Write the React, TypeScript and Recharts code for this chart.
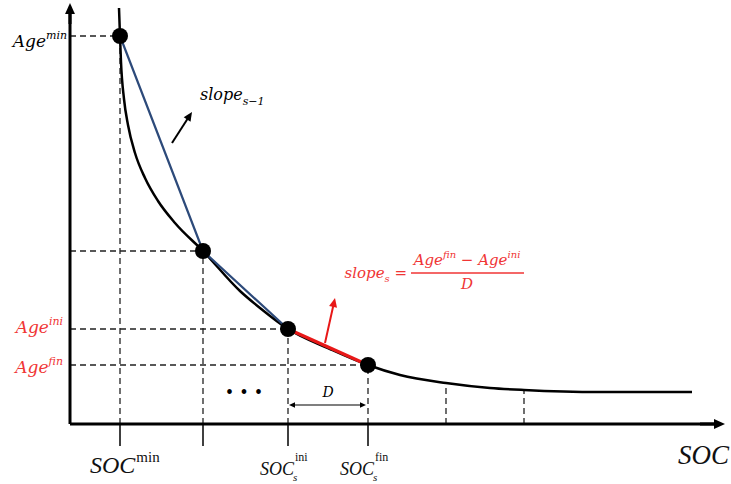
import React from 'react'
import {
  ComposedChart,
  Line,
  Scatter,
  XAxis,
  YAxis,
  ReferenceLine,
  ReferenceDot,
} from 'recharts'

// ageing curve (SOC on x, Age on y)
const curveSoc = [49, 50, 51, 54, 58, 65, 75, 88, 105, 133, 170, 190, 218, 260, 298, 330, 376, 420, 454, 530, 622]
const curveAge = [416, 388, 362, 325, 299, 271, 246, 223, 201, 173, 133, 116, 95, 75, 59, 49, 41, 36, 34, 32, 32]

// breakpoints of the piecewise linearisation
const knotSoc = [50, 133, 218, 298]
const knotAge = [388, 173, 95, 59]

// further breakpoints on the flat tail
const tailSoc = [376, 454]
const tailAge = [41, 34]

// tick labels
const socSup = ['min', '', 'ini', 'fin']
const socSub = ['', '', 's', 's']
const ageSup = ['min', '', 'ini', 'fin']
const ageColor = ['#000', '#000', '#f03535', '#f03535']
const ageDy = [11, 0, 4, 8]

const RED = '#f03535'
const BLUE = '#2d4a7a'
const SERIF = 'Liberation Serif'
const MATH = 'DejaVu Serif'

const curve = curveSoc.map((s, i) => ({ soc: s, age: curveAge[i] }))
const knots = knotSoc.map((s, i) => ({ soc: s, age: knotAge[i] }))
const blueChord = knots.slice(0, 3)
const redChord = knots.slice(2, 4)

const arrowShape = (color: string, width: number, head: number, both = false) => (p: any) => {
  const { x1, y1, x2, y2 } = p
  const dx = x2 - x1
  const dy = y2 - y1
  const len = Math.sqrt(dx * dx + dy * dy) || 1
  const ux = dx / len
  const uy = dy / len
  const nx = -uy
  const ny = ux
  const w = head * 0.45
  const tri = (tx: number, ty: number, sx: number, sy: number) => {
    const bx = tx - sx * head
    const by = ty - sy * head
    return `${tx},${ty} ${bx + nx * w},${by + ny * w} ${bx - nx * w},${by - ny * w}`
  }
  return (
    <g>
      <line
        x1={both ? x1 + ux * head * 0.8 : x1}
        y1={both ? y1 + uy * head * 0.8 : y1}
        x2={x2 - ux * head * 0.8}
        y2={y2 - uy * head * 0.8}
        stroke={color}
        strokeWidth={width}
      />
      <polygon points={tri(x2, y2, ux, uy)} fill={color} />
      {both && <polygon points={tri(x1, y1, -ux, -uy)} fill={color} />}
    </g>
  )
}

const SocTick = (props: any) => {
  const { x, y, index } = props
  const sup = socSup[index]
  if (!sup) return null
  const small = socSub[index] !== ''
  const fs = small ? 18 : 24
  const x0 = small ? x - 28 : x - 30
  const base = small ? y + 27 : y + 25
  const w = fs * 1.889
  return (
    <g>
      <text x={x0} y={base} fontFamily={SERIF} fontStyle="italic" fontSize={fs} fill="#111">
        SOC
      </text>
      <text x={x0 + w + 1} y={base - (small ? 14 : 11)} fontFamily={SERIF} fontSize={small ? 12 : 15} fill="#111">
        {sup}
      </text>
      {small && (
        <text x={x0 + w - 1} y={base + 6} fontFamily={SERIF} fontStyle="italic" fontSize={11} fill="#111">
          {socSub[index]}
        </text>
      )}
    </g>
  )
}

const AgeTick = (props: any) => {
  const { y, index } = props
  const sup = ageSup[index]
  if (!sup) return null
  return (
    <text
      x={index === 0 ? 67 : 63}
      y={y + ageDy[index]}
      textAnchor="end"
      fontFamily={MATH}
      fontStyle="italic"
      fontSize={17}
      fill={ageColor[index]}
    >
      Age
      <tspan fontSize={11} dy={-8}>
        {sup}
      </tspan>
    </text>
  )
}

const note = (key: string, x: number, y: number, content: React.ReactNode) => (
  <ReferenceDot
    key={key}
    x={x}
    y={y}
    r={0}
    ifOverflow="visible"
    shape={(p: any) => <g transform={`translate(${p.cx},${p.cy})`}>{content}</g>}
  />
)

const dash = { stroke: '#222', strokeWidth: 1.3, strokeDasharray: '6 4' }

export default function App() {
  return (
    <div style={{ position: 'absolute', left: 0, top: 0, background: '#fff' }}>
      <ComposedChart width={731} height={484} margin={{ top: 8, right: 11, bottom: 0, left: 0 }}>
        <XAxis
          type="number"
          dataKey="soc"
          domain={[0, 650]}
          allowDataOverflow
          ticks={knotSoc}
          tickSize={22}
          height={60}
          axisLine={{ stroke: '#000', strokeWidth: 3 }}
          tickLine={{ stroke: '#000', strokeWidth: 1.5 }}
          tick={<SocTick />}
          interval={0}
        />
        <YAxis
          type="number"
          dataKey="age"
          domain={[0, 416]}
          allowDataOverflow
          ticks={knotAge}
          width={70}
          tickLine={false}
          axisLine={{ stroke: '#000', strokeWidth: 3 }}
          tick={<AgeTick />}
          interval={0}
        />

        {knots.map((k, i) => (
          <ReferenceLine key={'h' + i} segment={[{ x: 0, y: k.age }, { x: k.soc, y: k.age }]} {...dash} ifOverflow="visible" />
        ))}
        {knots.map((k, i) => (
          <ReferenceLine key={'v' + i} segment={[{ x: k.soc, y: 0 }, { x: k.soc, y: k.age }]} {...dash} ifOverflow="visible" />
        ))}
        {tailSoc.map((s, i) => (
          <ReferenceLine key={'t' + i} segment={[{ x: s, y: 0 }, { x: s, y: tailAge[i] }]} {...dash} ifOverflow="visible" />
        ))}

        <Line data={curve} dataKey="age" type="monotone" stroke="#000" strokeWidth={2.5} dot={false} isAnimationActive={false} />
        <Line data={blueChord} dataKey="age" type="linear" stroke={BLUE} strokeWidth={2.2} dot={false} isAnimationActive={false} />
        <Line data={redChord} dataKey="age" type="linear" stroke="#e81818" strokeWidth={3.5} dot={false} isAnimationActive={false} />
        <Scatter
          data={knots}
          isAnimationActive={false}
          shape={(p: any) => <circle cx={p.cx} cy={p.cy} r={8} fill="#000" />}
        />

        {/* axis arrow heads */}
        <ReferenceLine segment={[{ x: 0, y: 400 }, { x: 0, y: 421 }]} ifOverflow="visible" shape={arrowShape('#000', 3, 11)} />
        <ReferenceLine segment={[{ x: 630, y: 0 }, { x: 655, y: 0 }]} ifOverflow="visible" shape={arrowShape('#000', 3, 11)} />

        {/* annotation arrows */}
        <ReferenceLine segment={[{ x: 102, y: 281 }, { x: 122, y: 312 }]} ifOverflow="visible" shape={arrowShape('#000', 2, 9)} />
        <ReferenceLine segment={[{ x: 255, y: 81 }, { x: 265, y: 126 }]} ifOverflow="visible" shape={arrowShape('#e81818', 2, 9)} />
        <ReferenceLine segment={[{ x: 219, y: 19 }, { x: 296, y: 19 }]} ifOverflow="visible" shape={arrowShape('#000', 1.2, 6, true)} />

        {note(
          'slope1',
          130,
          324,
          <text fontFamily={MATH} fontStyle="italic" fontSize={16} fill="#000">
            slope
            <tspan fontSize={11} dy={5}>
              s−1
            </tspan>
          </text>
        )}
        {note(
          'formula',
          397,
          151,
          <g fill={RED} fontFamily={MATH} fontStyle="italic">
            <text x={-60} y={5} textAnchor="end" fontSize={15}>
              slope
              <tspan fontSize={10} dy={4}>
                s
              </tspan>
              <tspan dy={-4} fontStyle="normal">
                {' ='}
              </tspan>
            </text>
            <text x={0} y={-8} textAnchor="middle" fontSize={15}>
              Age
              <tspan fontSize={10} dy={-7}>
                fin
              </tspan>
              <tspan dy={7} fontStyle="normal">
                {' − '}
              </tspan>
              Age
              <tspan fontSize={10} dy={-7}>
                ini
              </tspan>
            </text>
            <line x1={-56} y1={0} x2={57} y2={0} stroke={RED} strokeWidth={1.5} />
            <text x={0} y={16} textAnchor="middle" fontSize={15}>
              D
            </text>
          </g>
        )}
        {note(
          'dots',
          174,
          26,
          <text textAnchor="middle" fontFamily={MATH} fontSize={16} fill="#000">
            • • •
          </text>
        )}
        {note(
          'D',
          258,
          27,
          <text textAnchor="middle" fontFamily={MATH} fontStyle="italic" fontSize={14} fill="#000">
            D
          </text>
        )}
        {note(
          'soc',
          608,
          -40,
          <text fontFamily={SERIF} fontStyle="italic" fontSize={27} fill="#111">
            SOC
          </text>
        )}
      </ComposedChart>
    </div>
  )
}
